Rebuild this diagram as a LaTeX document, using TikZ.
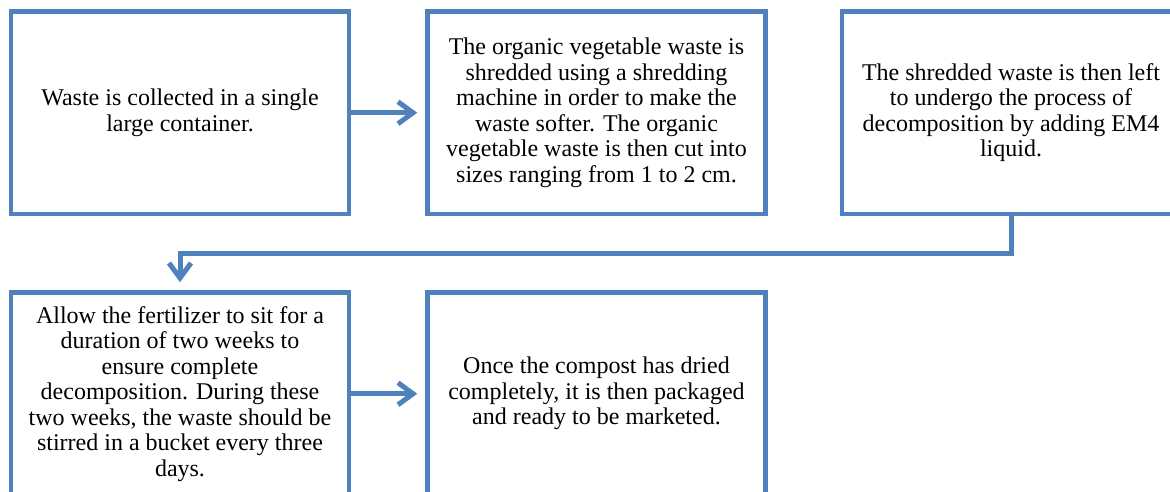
\documentclass[tikz,border=0pt]{standalone}
\usepackage{fontspec}
\setmainfont{Liberation Serif}
\usetikzlibrary{arrows.meta}
\definecolor{boxblue}{RGB}{79,129,189}
\tikzset{
  stepbox/.style={draw=boxblue, line width=4.5pt, fill=white, rectangle,
    minimum width=338pt, minimum height=202.5pt, inner sep=0pt,
    align=center, text=black, font=\fontsize{24}{25.5}\selectfont},
  arr/.style={draw=boxblue, line width=5pt,
    -{Straight Barb[length=15pt,width=22pt,line join=miter]}},
}
\begin{document}
\begin{tikzpicture}[x=1pt,y=-1pt]
\useasboundingbox (0,0) rectangle (1170,491);
\begin{scope}
\clip (0,0) rectangle (1170,491);
\node[stepbox] (b1) at (180,112.75) {Waste is collected in a single\\large container.};
\node[stepbox] (b2) at (596.5,112.75) {The organic vegetable waste is\\shredded using a shredding\\machine in order to make the\\waste softer. The organic\\vegetable waste is then cut into\\sizes ranging from 1 to 2 cm.};
\node[stepbox] (b3) at (1011,112.75) {The shredded waste is then left\\to undergo the process of\\decomposition by adding EM4\\liquid.};
\node[stepbox] (b4) at (180,393.75) {Allow the fertilizer to sit for a\\duration of two weeks to\\ensure complete\\decomposition. During these\\two weeks, the waste should be\\stirred in a bucket every three\\days.};
\node[stepbox] (b5) at (596.5,393.75) {Once the compost has dried\\completely, it is then packaged\\and ready to be marketed.};
\coordinate (bend) at (180,253);
\draw[arr, shorten >=8pt] (b1.east) -- (b2.west);
\draw[arr, shorten >=8pt] (b4.east) -- (b5.west);
\draw[arr, shorten >=8pt] (b3.south) |- (bend) -- (b4.north);
\end{scope}
\end{tikzpicture}
\end{document}
